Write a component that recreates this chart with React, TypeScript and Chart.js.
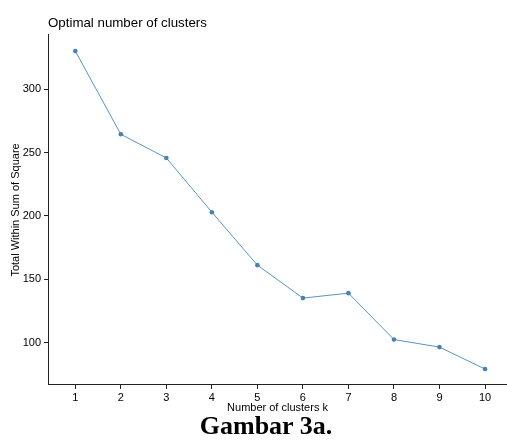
import React, { useEffect, useRef } from "react";
import { Chart, registerables } from "chart.js";

Chart.register(...registerables);

const clusters: number[] = [1, 2, 3, 4, 5, 6, 7, 8, 9, 10];
const wss: number[] = [330.2, 264.5, 245.8, 203.0, 161.2, 135.2, 139.1, 102.5, 96.5, 79.2];
const yTicks: number[] = [100, 150, 200, 250, 300];
const chartTitle = "Optimal number of clusters";
const xTitle = "Number of clusters k";
const yTitle = "Total Within Sum of Square";
const caption = "Gambar 3a.";

export default function App() {
  const canvasRef = useRef<HTMLCanvasElement | null>(null);

  useEffect(() => {
    document.body.style.margin = "0";
    const canvas = canvasRef.current;
    if (!canvas) return;
    const sans = "'Liberation Sans', Arial, sans-serif";
    const axisColor = "#222222";
    const chart = new Chart(canvas, {
      type: "line",
      data: {
        datasets: [
          {
            data: clusters.map((k, i) => ({ x: k, y: wss[i] })),
            borderColor: "#5B93C4",
            backgroundColor: "#4682B4",
            borderWidth: 1,
            pointRadius: 2.3,
            pointBorderWidth: 0,
            pointBackgroundColor: "#4682B4",
            tension: 0,
          },
        ],
      },
      options: {
        responsive: false,
        animation: false,
        layout: { autoPadding: false, padding: { top: 0, left: 0, right: 0, bottom: 29 } },
        plugins: {
          legend: { display: false },
          tooltip: { enabled: false },
          title: {
            display: true,
            text: chartTitle,
            align: "start",
            fullSize: false,
            color: "#000",
            font: { family: sans, size: 13.3, weight: "normal", lineHeight: 1.2 },
            padding: { top: 15, bottom: 4 },
          },
        },
        scales: {
          x: {
            type: "linear",
            min: 0.4,
            max: 10.483,
            afterFit: (s: any) => {
              s.height = 32;
              s.paddingLeft = 0;
              s.paddingRight = 0;
            },
            afterBuildTicks: (s: any) => {
              s.ticks = clusters.map((v) => ({ value: v }));
            },
            grid: {
              display: true,
              drawOnChartArea: false,
              drawTicks: true,
              tickLength: 4,
              color: axisColor,
            },
            border: { display: true, color: axisColor, width: 1 },
            ticks: {
              color: "#000",
              font: { family: sans, size: 11 },
              padding: 2,
              maxRotation: 0,
              autoSkip: false,
              callback: (v: any) => String(v),
            },
            title: {
              display: true,
              text: xTitle,
              color: "#000",
              font: { family: sans, size: 11, lineHeight: 1.2 },
              padding: { top: 0, bottom: 2 },
            },
          },
          y: {
            type: "linear",
            min: 66.6,
            max: 342.9,
            afterFit: (s: any) => {
              s.width = 48;
              s.paddingTop = 0;
              s.paddingBottom = 0;
            },
            afterBuildTicks: (s: any) => {
              s.ticks = yTicks.map((v) => ({ value: v }));
            },
            grid: {
              display: true,
              drawOnChartArea: false,
              drawTicks: true,
              tickLength: 4,
              color: axisColor,
            },
            border: { display: true, color: axisColor, width: 1 },
            ticks: {
              color: "#000",
              font: { family: sans, size: 11 },
              padding: 3,
              callback: (v: any) => String(v),
            },
            title: {
              display: true,
              text: yTitle,
              color: "#000",
              font: { family: sans, size: 11, lineHeight: 1.2 },
              padding: { top: 9, bottom: 0 },
            },
          },
        },
      },
    });
    return () => chart.destroy();
  }, []);

  return (
    <div style={{ position: "relative", width: 507, height: 446, background: "#fff" }}>
      <canvas ref={canvasRef} width={507} height={446} style={{ position: "absolute", left: 0, top: 0, width: 507, height: 446 }} />
      <div
        style={{
          position: "absolute",
          left: 166,
          width: 200,
          top: 413,
          textAlign: "center",
          fontFamily: "'Liberation Serif', 'Times New Roman', serif",
          fontWeight: "bold",
          fontSize: 26,
          lineHeight: "26px",
          color: "#000",
        }}
      >
        {caption}
      </div>
    </div>
  );
}
